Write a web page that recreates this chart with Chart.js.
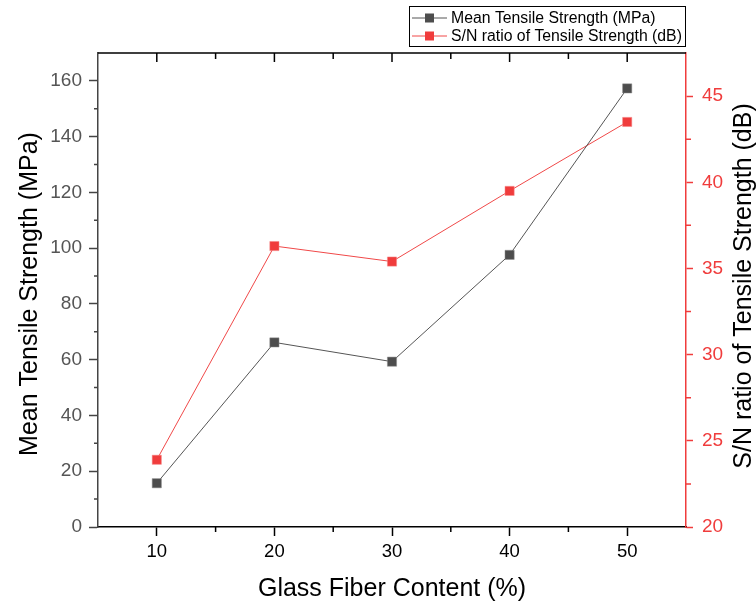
<!DOCTYPE html>
<html lang="en">
<head>
<meta charset="UTF-8">
<title>Tensile Strength vs Glass Fiber Content</title>
<script src="https://cdn.jsdelivr.net/npm/chart.js@4.4.1/dist/chart.umd.min.js"></script>
<style>
  html, body { margin: 0; padding: 0; background: #fff; }
</style>
</head>
<body>
<canvas id="chartCanvas" width="756" height="607"></canvas>
<script>
// data
const fiberContent = [10, 20, 30, 40, 50];
const meanStrength = [15.7, 66.2, 59.3, 97.6, 157.3];
const snRatio = [23.9, 36.3, 35.4, 39.5, 43.5];

const xTicks = [10, 20, 30, 40, 50];
const xMinor = [10, 15, 20, 25, 30, 35, 40, 45, 50];
const leftTicks = [0, 20, 40, 60, 80, 100, 120, 140, 160];
const leftMinor = [10, 30, 50, 70, 90, 110, 130, 150];
const rightTicks = [20, 25, 30, 35, 40, 45];
const rightMinor = [22.5, 27.5, 32.5, 37.5, 42.5];

const FONT = '"Liberation Sans", Arial, sans-serif';
const GREY = '#4d4d4d';
const RED = '#f03c3c';

// minor ticks, top frame, axis titles and legend
const extras = {
    id: 'extras',
    afterDraw(chart) {
        const {ctx, chartArea: a, scales} = chart;
        ctx.save();
        ctx.lineWidth = 1.5;

        // top frame line with inward ticks
        ctx.strokeStyle = '#000';
        ctx.beginPath();
        ctx.moveTo(a.left, a.top);
        ctx.lineTo(a.right, a.top);
        xMinor.forEach(v => {
            const x = scales.x.getPixelForValue(v);
            const len = xTicks.includes(v) ? 9 : 6;
            ctx.moveTo(x, a.top);
            ctx.lineTo(x, a.top + len);
        });
        ctx.stroke();

        // bottom minor ticks
        ctx.beginPath();
        xMinor.filter(v => !xTicks.includes(v)).forEach(v => {
            const x = scales.x.getPixelForValue(v);
            ctx.moveTo(x, a.bottom);
            ctx.lineTo(x, a.bottom + 5);
        });
        ctx.stroke();

        // left minor ticks
        ctx.strokeStyle = '#444';
        ctx.beginPath();
        leftMinor.forEach(v => {
            const y = scales.y.getPixelForValue(v);
            ctx.moveTo(a.left, y);
            ctx.lineTo(a.left - 4, y);
        });
        ctx.stroke();

        // right minor ticks
        ctx.strokeStyle = RED;
        ctx.beginPath();
        rightMinor.forEach(v => {
            const y = scales.y1.getPixelForValue(v);
            ctx.moveTo(a.right, y);
            ctx.lineTo(a.right + 5, y);
        });
        ctx.stroke();
        ctx.restore();

        // vertical axis titles, both reading bottom to top
        const vTitle = (text, x, y) => {
            ctx.save();
            ctx.fillStyle = '#000';
            ctx.font = '25px ' + FONT;
            ctx.textAlign = 'center';
            ctx.textBaseline = 'middle';
            ctx.translate(x, y);
            ctx.rotate(-Math.PI / 2);
            ctx.fillText(text, 0, 0);
            ctx.restore();
        };
        vTitle('Mean Tensile Strength (MPa)', 30, 294);
        vTitle('S/N ratio of Tensile Strength (dB)', 744, 286);

        // legend box
        ctx.save();
        const boxL = 409, boxR = a.right, boxT = 6, boxB = 47;
        ctx.fillStyle = '#fff';
        ctx.fillRect(boxL, boxT, boxR - boxL, boxB - boxT);
        ctx.strokeStyle = '#000';
        ctx.lineWidth = 1;
        ctx.strokeRect(boxL + 0.5, boxT + 0.5, boxR - boxL - 1, boxB - boxT - 1);
        ctx.font = '15.8px ' + FONT;
        ctx.textBaseline = 'middle';
        chart.data.datasets.forEach((ds, i) => {
            const y = 18 + i * 18;
            ctx.strokeStyle = ds.borderColor;
            ctx.beginPath();
            ctx.moveTo(412, y);
            ctx.lineTo(447, y);
            ctx.stroke();
            ctx.fillStyle = ds.pointBackgroundColor;
            ctx.fillRect(425, y - 4.5, 9, 9);
            ctx.fillStyle = '#000';
            ctx.fillText(ds.label, 451, y + 1);
        });
        ctx.restore();
    }
};

const ctx = document.getElementById('chartCanvas').getContext('2d');
const myChart = new Chart(ctx, {
    type: 'line',
    data: {
        datasets: [{
            label: 'Mean Tensile Strength (MPa)',
            data: fiberContent.map((x, i) => ({x: x, y: meanStrength[i]})),
            yAxisID: 'y',
            borderColor: '#555555',
            borderWidth: 1,
            pointStyle: 'rect',
            pointRadius: 6.5,
            pointBackgroundColor: GREY,
            pointBorderColor: '#8a8a8a',
            pointBorderWidth: 0.5
        }, {
            label: 'S/N ratio of Tensile Strength (dB)',
            data: fiberContent.map((x, i) => ({x: x, y: snRatio[i]})),
            yAxisID: 'y1',
            borderColor: '#f04848',
            borderWidth: 1,
            pointStyle: 'rect',
            pointRadius: 6.5,
            pointBackgroundColor: RED,
            pointBorderColor: '#f58a8a',
            pointBorderWidth: 0.5
        }]
    },
    options: {
        responsive: false,
        animation: false,
        devicePixelRatio: 1,
        layout: { padding: { top: 53, left: 0, right: 0, bottom: 0 } },
        plugins: { legend: { display: false }, tooltip: { enabled: false } },
        scales: {
            x: {
                type: 'linear',
                position: 'bottom',
                min: 5,
                max: 55,
                afterBuildTicks: s => { s.ticks = xTicks.map(v => ({value: v})); },
                afterFit: s => { s.height = 80; },
                grid: { drawOnChartArea: false, tickLength: 9, tickWidth: 1.5, tickColor: '#000' },
                border: { color: '#000', width: 1.5 },
                ticks: { color: '#000', padding: 5, font: { family: FONT, size: 18.5 } },
                title: {
                    display: true,
                    text: 'Glass Fiber Content (%)',
                    color: '#000',
                    padding: { top: 0, bottom: 3 },
                    font: { family: FONT, size: 25 }
                }
            },
            y: {
                position: 'left',
                min: 0,
                max: 170,
                afterBuildTicks: s => { s.ticks = leftTicks.map(v => ({value: v})); },
                afterFit: s => { s.width = 98; },
                grid: { drawOnChartArea: false, tickLength: 9, tickWidth: 1.5, tickColor: '#444' },
                border: { color: '#444', width: 1.5 },
                ticks: { color: '#555', padding: 7, font: { family: FONT, size: 19 } }
            },
            y1: {
                position: 'right',
                min: 20,
                max: 47.5,
                afterBuildTicks: s => { s.ticks = rightTicks.map(v => ({value: v})); },
                afterFit: s => { s.width = 70; },
                grid: { drawOnChartArea: false, tickLength: 7, tickWidth: 1.5, tickColor: RED },
                border: { color: RED, width: 1.5 },
                ticks: { color: RED, padding: 9, font: { family: FONT, size: 19 } }
            }
        }
    },
    plugins: [extras]
});
</script>
</body>
</html>
